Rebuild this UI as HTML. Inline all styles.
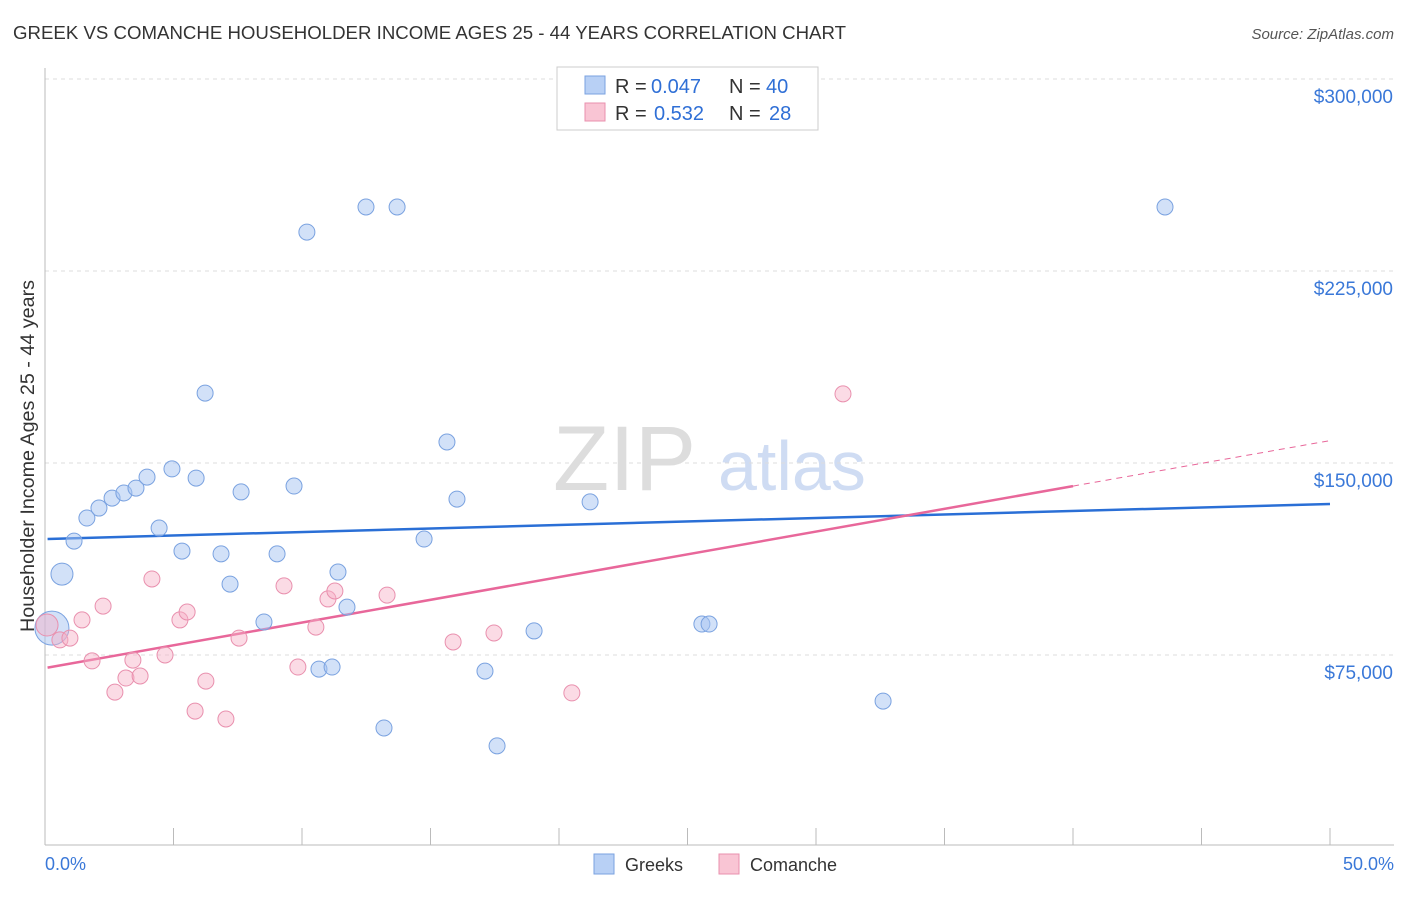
<!DOCTYPE html>
<html><head><meta charset="utf-8"><style>
body{margin:0;background:#fff;font-family:"Liberation Sans",sans-serif}
svg text{font-family:"Liberation Sans",sans-serif}
</style></head><body>
<svg id="chart" width="1406" height="892">
<text x="13" y="39" font-size="18" fill="#333" textLength="833" lengthAdjust="spacingAndGlyphs">GREEK VS COMANCHE HOUSEHOLDER INCOME AGES 25 - 44 YEARS CORRELATION CHART</text>
<text x="1394" y="39" font-size="15" fill="#555" text-anchor="end" font-style="italic">Source: ZipAtlas.com</text>
<g><text x="553" y="490" font-size="92" fill="#ddd" font-family="Liberation Serif,serif">ZIP</text><text x="718" y="490" font-size="70" fill="#cfdcf3">atlas</text></g>
<g id="grid"></g><g id="axes"></g><g id="trends"></g><g id="pts"></g>
<text transform="translate(34,456) rotate(-90)" font-size="19" fill="#333" text-anchor="middle" textLength="352" lengthAdjust="spacingAndGlyphs">Householder Income Ages 25 - 44 years</text>
<text x="45" y="870" font-size="18" fill="#3a78d8">0.0%</text>
<text x="1394" y="870" font-size="18" fill="#3a78d8" text-anchor="end">50.0%</text>
<g>
<rect x="557" y="67" width="261" height="63" fill="#fff" stroke="#ccc"/>
<rect x="585" y="76" width="20" height="18" fill="#b8d0f5" stroke="#7aa2e0"/>
<rect x="585" y="103" width="20" height="18" fill="#f9c5d4" stroke="#e990ae"/>
<text x="615" y="93" font-size="20" fill="#333">R =</text>
<text x="651" y="93" font-size="20" fill="#2f6fd6">0.047</text>
<text x="729" y="93" font-size="20" fill="#333">N =</text>
<text x="766" y="93" font-size="20" fill="#2f6fd6">40</text>
<text x="615" y="120" font-size="20" fill="#333">R =</text>
<text x="654" y="120" font-size="20" fill="#2f6fd6">0.532</text>
<text x="729" y="120" font-size="20" fill="#333">N =</text>
<text x="769" y="120" font-size="20" fill="#2f6fd6">28</text>
</g>
<g>
<rect x="594" y="854" width="20" height="20" fill="#b8d0f5" stroke="#7aa2e0"/>
<text x="625" y="871" font-size="18" fill="#333">Greeks</text>
<rect x="719" y="854" width="20" height="20" fill="#f9c5d4" stroke="#e990ae"/>
<text x="750" y="871" font-size="18" fill="#333">Comanche</text>
</g>
</svg>
<script>
const yTicks=[75000,150000,225000,300000];
const yTickLabels=["$75,000","$150,000","$225,000","$300,000"];
const xTicks=[0,5,10,15,20,25,30,35,40,45,50];
const greekX=[0.27,0.66,1.13,1.63,2.10,2.61,3.07,3.54,3.97,4.44,4.94,5.33,5.88,6.23,6.85,7.20,7.63,8.52,9.03,9.69,10.19,10.66,11.17,11.40,11.75,12.49,13.19,13.70,14.75,15.64,16.03,17.12,17.59,19.03,21.21,25.56,25.84,32.61,43.58];
const greekY=[85500,106600,119500,128500,132400,136300,138300,140200,144500,124600,147700,115600,144100,177300,114500,102700,138700,87900,114500,141000,240200,69500,70300,107400,93700,250000,46500,250000,120300,158200,135900,68700,39500,84400,134800,87100,87100,57000,250000];
const greekR=[17,11,8,8,8,8,8,8,8,8,8,8,8,8,8,8,8,8,8,8,8,8,8,8,8,8,8,8,8,8,8,8,8,8,8,8,8,8,8];
const comX=[0.08,0.58,0.97,1.44,1.83,2.26,2.72,3.15,3.42,3.70,4.16,4.67,5.25,5.53,5.84,6.26,7.04,7.55,9.30,9.84,10.54,11.01,11.28,13.31,15.88,17.47,20.50,31.05];
const comY=[86700,80900,81600,88700,72700,94100,60500,66000,73000,66800,104700,75000,88700,91800,53100,64800,50000,81600,102000,70300,85900,96900,100000,98400,80100,83600,60200,177000];
const comR=[11,8,8,8,8,8,8,8,8,8,8,8,8,8,8,8,8,8,8,8,8,8,8,8,8,8,8,8];
const greekTrend=[120300,274];
const comTrend=[69900,1777];
const comSolidEnd=40;
const X=v=>45+v/50*1285, Y=v=>79+(300000-v)/75000*192;
const NS="http://www.w3.org/2000/svg";
function mk(p,t,a){const e=document.createElementNS(NS,t);for(const k in a)e.setAttribute(k,a[k]);document.getElementById(p).appendChild(e);return e;}
yTicks.forEach((t,i)=>{
 const l=mk('grid','line',{x1:45,x2:1394,y1:Y(t),y2:Y(t),stroke:'#ddd','stroke-dasharray':'4,4'});
 
 
 const tx=mk('grid','text',{x:1393,y:Y(t)+24,'font-size':19,fill:'#3a78d8','text-anchor':'end'});
 tx.textContent=yTickLabels[i];
 
 
});
const ya=mk('axes','line',{x1:45,x2:45,y1:68,y2:845,stroke:'#bbb'});


const xa=mk('axes','line',{x1:45,x2:1394,y1:845,y2:845,stroke:'#bbb'});


xTicks.forEach(t=>{const e=mk('axes','line',{x1:X(t),x2:X(t),y1:828,y2:845,stroke:'#bbb'});
 
 });
function pts(xs,ys,rs,fill,stroke,name){xs.forEach((x,i)=>{const c=mk('pts','circle',{cx:X(x),cy:Y(ys[i]),r:rs[i],fill:fill,stroke:stroke,'stroke-width':1});
 
 });}
pts(greekX,greekY,greekR,'rgba(165,195,242,0.5)','#7aa2e0','greek-point');
pts(comX,comY,comR,'rgba(246,175,198,0.45)','#e990ae','comanche-point');
const bt=mk('trends','line',{x1:X(0.1),y1:Y(greekTrend[0]+greekTrend[1]*0.1),x2:X(50),y2:Y(greekTrend[0]+greekTrend[1]*50),stroke:'#2a6fd6','stroke-width':2.5});


const pt=mk('trends','line',{x1:X(0.1),y1:Y(comTrend[0]+comTrend[1]*0.1),x2:X(comSolidEnd),y2:Y(comTrend[0]+comTrend[1]*comSolidEnd),stroke:'#e8679a','stroke-width':2.5});


const pd=mk('trends','line',{x1:X(comSolidEnd),y1:Y(comTrend[0]+comTrend[1]*comSolidEnd),x2:X(50),y2:Y(comTrend[0]+comTrend[1]*50),stroke:'#e8679a','stroke-width':1,'stroke-dasharray':'6,5'});


</script>
</body></html>
